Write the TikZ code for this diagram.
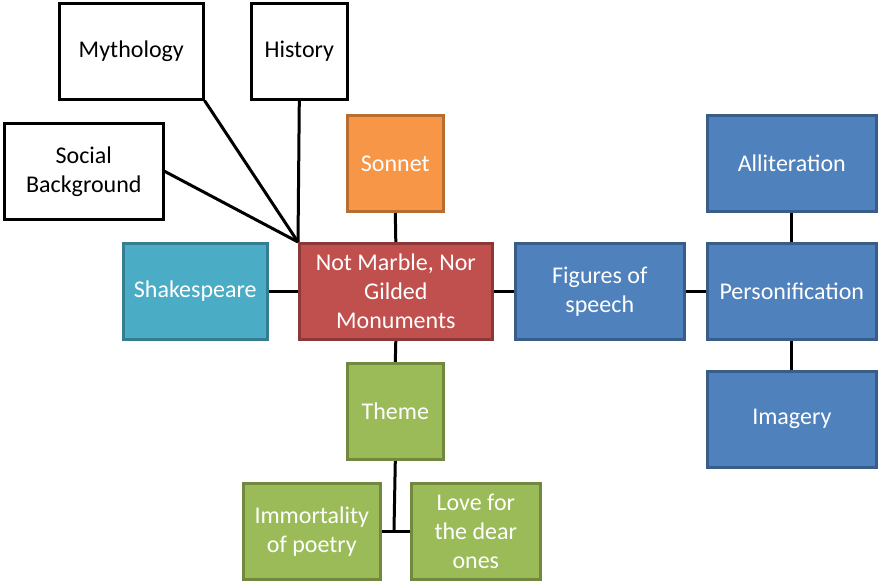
\documentclass[tikz,border=0pt]{standalone}
\usepackage{fontspec}
\setmainfont{Carlito}
\usetikzlibrary{backgrounds}
\definecolor{redf}{HTML}{C0504D}\definecolor{redd}{HTML}{8C3836}
\definecolor{orf}{HTML}{F79646}\definecolor{ord}{HTML}{B66D31}
\definecolor{tef}{HTML}{4BACC6}\definecolor{ted}{HTML}{357D91}
\definecolor{blf}{HTML}{4F81BD}\definecolor{bld}{HTML}{385D8A}
\definecolor{grf}{HTML}{9BBB59}\definecolor{grd}{HTML}{71893F}
\begin{document}
\begin{tikzpicture}[x=1pt,y=-1pt,
  box/.style={draw, line width=2.6pt, inner sep=0pt, align=center, anchor=north west,
    font=\fontsize{24}{29}\selectfont},
  wbox/.style={box, draw=black, fill=white, text=black},
  rbox/.style={box, draw=redd, fill=redf, text=white},
  obox/.style={box, draw=ord, fill=orf, text=white},
  tbox/.style={box, draw=ted, fill=tef, text=white},
  bbox/.style={box, draw=bld, fill=blf, text=white},
  gbox/.style={box, draw=grd, fill=grf, text=white},
  link/.style={draw=black, line width=3pt}]
\useasboundingbox (0,0) rectangle (880,581);
\coordinate (jc) at (394,530);
\node[wbox, minimum width=144pt, minimum height=96pt] (myth) at (58,2) {Mythology};
\node[wbox, minimum width=96pt, minimum height=96pt] (hist) at (250,2) {History};
\node[wbox, minimum width=159pt, minimum height=96pt] (soc) at (3,122) {Social\\Background};
\node[obox, minimum width=96pt, minimum height=96pt] (son) at (346,114) {Sonnet};
\node[tbox, minimum width=144pt, minimum height=96pt] (shak) at (122,242) {Shakespeare};
\node[rbox, minimum width=193pt, minimum height=96pt] (main) at (298,242) {Not Marble, Nor\\Gilded\\Monuments};
\node[bbox, minimum width=169pt, minimum height=96pt] (fig) at (514,242) {Figures of\\speech};
\node[bbox, minimum width=169pt, minimum height=96pt] (pers) at (706,242) {Personification};
\node[bbox, minimum width=169pt, minimum height=96pt] (allit) at (706,114) {Alliteration};
\node[bbox, minimum width=169pt, minimum height=96pt] (imag) at (706,370) {Imagery};
\node[gbox, minimum width=96pt, minimum height=96pt] (theme) at (346,362) {Theme};
\node[gbox, minimum width=137pt, minimum height=96pt] (imm) at (242,482) {Immortality\\of poetry};
\node[gbox, minimum width=129pt, minimum height=96pt] (love) at (410,482) {Love for\\the dear\\ones};
\begin{scope}[on background layer]
\path[link] (soc.east) -- (main.north west);
\path[link] (myth.south east) -- (main.north west);
\path[link] (hist.south) -- (main.north west);
\path[link] (son.south) -- (main.north);
\path[link] (shak.east) -- (main.west);
\path[link] (main.east) -- (fig.west);
\path[link] (fig.east) -- (pers.west);
\path[link] (allit.south) -- (pers.north);
\path[link] (pers.south) -- (imag.north);
\path[link] (main.south) -- (theme.north);
\path[link] (theme.south) -- (jc);
\path[link] (imm.east) -- (love.west);
\end{scope}
\end{tikzpicture}
\end{document}
